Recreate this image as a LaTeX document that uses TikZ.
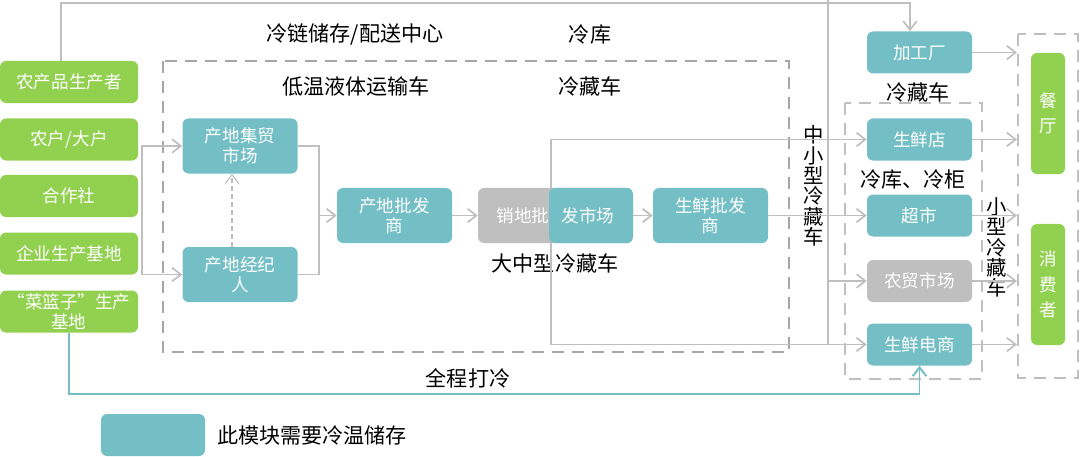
\documentclass[tikz,border=0pt]{standalone}
\usepackage{fontspec}
\setmainfont{Noto Sans CJK SC}
\usetikzlibrary{arrows.meta}
\definecolor{coldTeal}{HTML}{73BFC5}
\definecolor{farmGreen}{HTML}{92D050}
\definecolor{boxGray}{HTML}{BFBFBF}
\definecolor{lineGray}{HTML}{BFBFBF}
\definecolor{zoneGray}{HTML}{A6A6A6}

\begin{document}
\begin{tikzpicture}[x=0.25mm, y=-0.25mm,
    % 方框样式
    baseBox/.style={rounded corners=1.5mm, text=white, align=center, inner sep=0pt,
        font=\fontsize{12.5}{14.5}\selectfont},
    farmBox/.style={baseBox, fill=farmGreen, minimum width=34.5mm, minimum height=10.5mm},
    coldBox/.style={baseBox, fill=coldTeal},
    warmBox/.style={baseBox, fill=boxGray},
    midBox/.style={minimum width=28.75mm, minimum height=13.75mm},
    shopBox/.style={minimum width=26.25mm, minimum height=10.5mm},
    eatBox/.style={baseBox, fill=farmGreen, minimum width=8.5mm, minimum height=30.25mm,
        font=\fontsize{12.5}{18}\selectfont},
    % 文字标签
    tagText/.style={font=\fontsize{15}{17}\selectfont, text=black, inner sep=0pt},
    colText/.style={tagText, align=center, font=\fontsize{14.5}{14.5}\selectfont},
    % 连线
    flowLine/.style={draw=lineGray, line width=1.2pt},
    flowArrow/.style={flowLine, -{Straight Barb[length=2.2mm,width=3.4mm]}},
    flowBoth/.style={flowLine, {Straight Barb[length=2.2mm,width=3.4mm]}-{Straight Barb[length=2.2mm,width=3.4mm]}},
    coldArrow/.style={draw=coldTeal, line width=1.4pt, -{Straight Barb[length=2.2mm,width=3.4mm]}},
    zoneBox/.style={draw=zoneGray, line width=1.8pt, dash pattern=on 3mm off 2mm}
]
    \useasboundingbox (0,0) rectangle (1080,457);

    % 虚线区域
    \draw[zoneBox] (163,61) rectangle (789,352);
    \draw[zoneBox, draw=lineGray] (845,103) rectangle (982,379);
    \draw[zoneBox, draw=lineGray] (1018,34) rectangle (1078,378);

    % 左侧生产者
    \node[farmBox] (pA) at (69,82) {农产品生产者};
    \node[farmBox] (pB) at (69,139.5) {农户/大户};
    \node[farmBox] (pC) at (69,196) {合作社};
    \node[farmBox] (pD) at (69,253.5) {企业生产基地};
    \node[farmBox] (pE) at (69,311.5) {“菜篮子”生产\\基地};

    % 产地环节
    \node[coldBox, midBox] (jimao) at (240,146) {产地集贸\\市场};
    \node[coldBox, midBox] (jingji) at (240,274.5) {产地经纪\\人};
    \node[coldBox, midBox] (pifa) at (394.5,215.5) {产地批发\\商};
    \node[coldBox, midBox] (sxpifa) at (710.5,215.5) {生鲜批发\\商};

    % 终端
    \node[coldBox, shopBox] (jiagong) at (919.5,52.5) {加工厂};
    \node[coldBox, shopBox] (dian) at (919.5,139.5) {生鲜店};
    \node[coldBox, shopBox] (chaoshi) at (919.5,215.5) {超市};
    \node[warmBox, shopBox] (nongmao) at (919.5,281) {农贸市场};
    \node[coldBox, shopBox] (dianshang) at (919.5,344.5) {生鲜电商};

    % 消费端
    \node[eatBox] (canting) at (1048,113.5) {餐\\厅};
    \node[eatBox] (xiaofei) at (1048,284.5) {消\\费\\者};

    % 标签
    \node[tagText] (tagCenter) at (355,34) {冷链储存/配送中心};
    \node[tagText] (tagStore) at (590,35) {冷库};
    \node[tagText] (tagLiquid) at (356,86) {低温液体运输车};
    \node[tagText] (tagTruck) at (590,86) {冷藏车};
    \node[tagText] (tagBig) at (555,263) {大中型冷藏车};
    \node[tagText] (tagShopTruck) at (918,92) {冷藏车};
    \node[tagText] (tagCabinet) at (913,180) {冷库、冷柜};
    \node[tagText] (tagCold) at (468,378) {全程打冷};
    \node[colText] (tagMid) at (814,186) {中\\小\\型\\冷\\藏\\车};
    \node[colText] (tagSmall) at (997,247.5) {小\\型\\冷\\藏\\车};

    % 顶部直供加工厂
    \coordinate (topL) at (61,3);
    \coordinate (topR) at (910,3);
    \draw[flowArrow] (pA.north -| topL) -- (topL) -- (topR) -- (jiagong.north -| topR);

    % 中小型冷藏车主干
    \coordinate (trunk) at (828,0);
    \draw[flowLine] (trunk) -- (trunk |- dianshang.west);
    \draw[flowArrow] (trunk |- nongmao.west) -- (nongmao.west);

    % 销地批发市场分流
    \coordinate (loopX) at (551,0);
    \draw[flowArrow] (loopX |- dianshang.west) -- (loopX |- dian.west) -- (dian.west);
    \draw[flowArrow] (loopX |- dianshang.west) -- (dianshang.west);

    \node[warmBox, midBox, minimum width=38.75mm,
        path picture={\fill[coldTeal] ([xshift=17.75mm]path picture bounding box.south west)
            rectangle (path picture bounding box.north east);}]
        (xiaodi) at (555.5,215.5) {销地批\hspace{3mm}发市场};

    % 产地汇集
    \coordinate (splitX) at (142,0);
    \draw[flowBoth] (jimao.west) -- (splitX |- jimao.west) -- (splitX |- jingji.west) -- (jingji.west);
    \draw[flowArrow, line width=0.8pt, dash pattern=on 1.2mm off 0.8mm]
        ([xshift=-2mm]jingji.north) -- ([xshift=-2mm]jimao.south);

    \coordinate (mergeX) at (319,0);
    \draw[flowLine] (jimao.east) -- (mergeX |- jimao.east) -- (mergeX |- jingji.east) -- (jingji.east);
    \draw[flowArrow] (mergeX |- pifa.west) -- (pifa.west);

    % 批发链条
    \draw[flowArrow] (pifa.east) -- (xiaodi.west);
    \draw[flowArrow] (xiaodi.east) -- (sxpifa.west);
    \draw[flowArrow] (sxpifa.east) -- (chaoshi.west);

    % 终端到消费端
    \coordinate (endX) at (1017,0);
    \foreach \shop in {jiagong, dian, chaoshi, nongmao, dianshang}
        \draw[flowArrow] (\shop.east) -- (\shop.east -| endX);

    % 全程打冷
    \coordinate (coldY) at (0,394);
    \draw[coldArrow] (pE.south) -- (pE.south |- coldY) -| (dianshang.south);

    % 图例
    \node[coldBox, minimum width=26mm, minimum height=10.5mm] (legendBox) at (153,435) {};
    \node[tagText, anchor=west] (legendText) at (217,435) {此模块需要冷温储存};
\end{tikzpicture}
\end{document}
